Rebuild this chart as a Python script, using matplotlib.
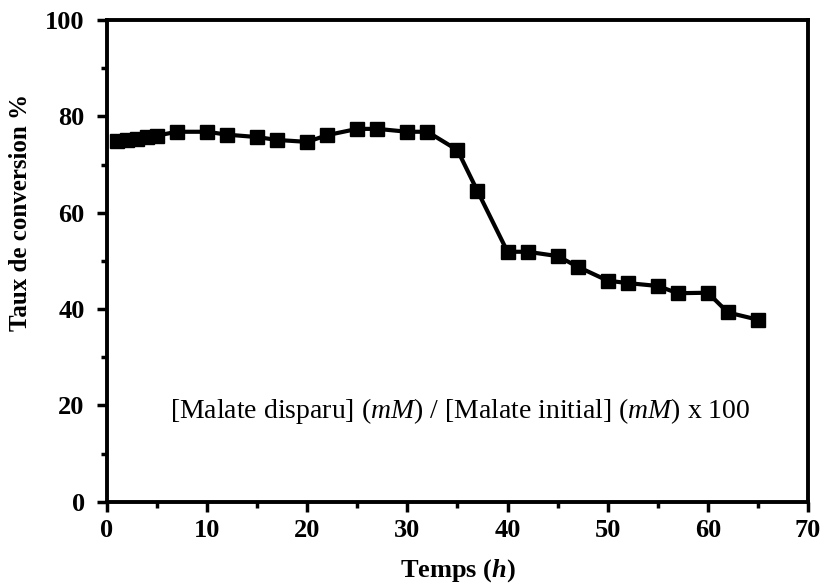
import matplotlib
matplotlib.use("Agg")
import matplotlib.pyplot as plt
from matplotlib.ticker import MultipleLocator

plt.rcParams['font.family'] = ['Liberation Serif', 'DejaVu Serif']
plt.rcParams['mathtext.fontset'] = 'custom'
plt.rcParams['mathtext.rm'] = 'Liberation Serif'
plt.rcParams['mathtext.it'] = 'Liberation Serif:italic'
plt.rcParams['mathtext.bf'] = 'Liberation Serif:bold:italic'

# temps (h) et taux de conversion (%)
temps = [1, 2, 3, 4, 5, 7, 10, 12, 15, 17, 20, 22, 25, 27, 30, 32, 35, 37,
         40, 42, 45, 47, 50, 52, 55, 57, 60, 62, 65]
taux = [74.8, 75.0, 75.3, 75.8, 76.0, 76.8, 76.8, 76.2, 75.7, 75.1, 74.7,
        76.1, 77.4, 77.4, 76.8, 76.8, 73.0, 64.5, 51.9, 51.9, 51.0, 48.8,
        45.9, 45.4, 44.8, 43.3, 43.4, 39.3, 37.8]

x_ticks = [0, 10, 20, 30, 40, 50, 60, 70]
y_ticks = [0, 20, 40, 60, 80, 100]

fig = plt.figure(figsize=(8.22, 5.87), dpi=100)
ax = fig.add_axes([0.130, 0.145, 0.853, 0.821])

ax.plot(temps, taux, color='black', linewidth=3, marker='s', markersize=10,
        markerfacecolor='black', markeredgecolor='black')

ax.set_xlim(0, 70)
ax.set_ylim(0, 100)
ax.set_xticks(x_ticks)
ax.set_yticks(y_ticks)
ax.xaxis.set_minor_locator(MultipleLocator(5))
ax.yaxis.set_minor_locator(MultipleLocator(10))
ax.tick_params(which='major', direction='out', length=7, width=2.5,
               labelsize=19, pad=5)
ax.tick_params(axis='y', which='major', pad=9)
ax.tick_params(which='minor', direction='out', length=4, width=2.5)
for lab in ax.get_xticklabels() + ax.get_yticklabels():
    lab.set_fontweight('bold')

for sp in ax.spines.values():
    sp.set_linewidth(2.8)

ax.set_xlabel(r'Temps ($\mathbf{h}$)', fontsize=19, fontweight='bold')
ax.xaxis.set_label_coords(0.5, -0.115)
ax.set_ylabel('Taux de conversion %', fontsize=18, fontweight='bold')
ax.yaxis.set_label_coords(-0.107, 0.6)

ax.text(6.3, 18.9, r'[Malate disparu] ($mM$) / [Malate initial] ($mM$) x 100',
        fontsize=20, va='center', ha='left')

fig.savefig('out.png', dpi=100)
